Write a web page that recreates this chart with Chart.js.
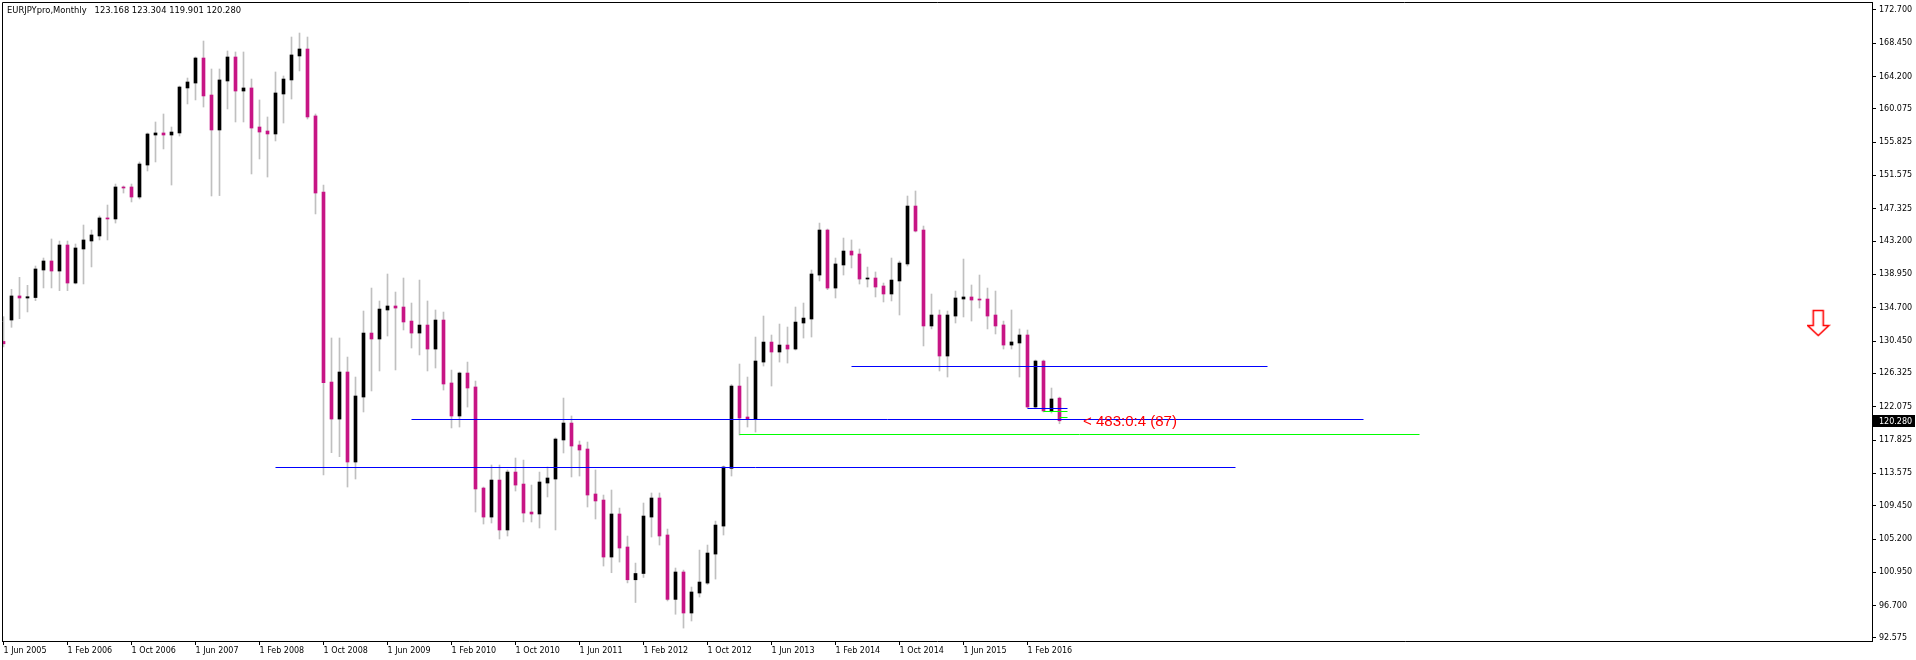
<!DOCTYPE html>
<html>
<head>
<meta charset="utf-8">
<script src="https://cdn.jsdelivr.net/npm/chart.js@4.4.1/dist/chart.umd.min.js"></script>
<style>
html,body{margin:0;padding:0;background:#ffffff;overflow:hidden;}
#wrap{width:1916px;height:660px;position:relative;}
canvas{display:block;}
</style>
</head>
<body>
<div id="wrap"><canvas id="chart" width="1916" height="660"></canvas></div>
<script>
// ---- data (monthly bars, index 0 = Jun 2005) ----
const chartTitle = 'EURJPYpro,Monthly   123.168 123.304 119.901 120.280';

const opens = [
130.40,133.13,136.20,135.94,136.00,139.51,140.66,139.38,142.70,137.85,
142.19,143.21,143.85,146.15,146.02,150.10,150.10,148.82,152.90,156.73,
156.99,156.73,156.99,162.73,163.36,166.55,161.83,157.37,163.62,166.68,
162.34,162.73,157.75,157.24,156.86,161.96,163.75,166.81,167.70,159.16,
149.46,125.22,120.50,126.50,115.02,123.31,131.47,130.71,134.41,134.92,
134.79,133.00,131.47,132.49,129.43,133.13,125.10,120.89,126.37,124.59,
111.70,108.00,112.72,106.35,113.74,112.21,108.64,108.39,112.34,112.85,
117.83,119.99,117.19,116.68,110.94,110.17,102.90,108.39,104.18,100.00,
100.80,108.00,110.43,105.71,97.50,100.99,95.76,98.31,99.58,103.28,
106.85,114.21,124.71,120.76,120.50,127.77,130.32,129.05,129.94,129.43,
132.75,133.26,138.87,144.61,137.21,140.15,141.93,141.55,138.36,138.49,
137.47,136.45,138.11,140.28,147.67,144.61,132.37,133.77,128.54,133.64,
135.81,136.07,135.81,135.81,133.77,132.50,129.94,130.20,131.22,122.04,
127.90,121.53,123.168];

const highs = [
133.56,137.05,138.58,137.56,140.02,141.04,143.47,143.21,143.21,142.83,
145.25,144.61,146.40,147.80,150.48,150.23,150.48,153.29,156.99,158.39,
159.41,157.75,162.98,164.00,166.68,168.72,165.15,165.15,167.45,167.32,
167.32,163.87,161.20,159.03,164.77,164.26,169.23,169.74,169.23,159.41,
150.35,130.84,130.84,128.41,125.86,134.28,137.21,135.56,139.00,136.70,
138.49,135.30,138.23,135.56,134.41,134.15,126.75,126.50,127.77,125.35,
111.83,114.64,114.64,114.00,115.53,115.27,112.08,113.74,114.38,118.10,
123.18,120.89,117.70,117.57,114.00,110.81,111.45,109.15,105.58,102.13,
109.79,111.07,111.07,106.47,101.50,101.24,99.07,103.79,104.43,107.49,
114.51,124.90,127.52,125.86,130.96,133.64,131.22,132.62,132.24,134.79,
135.30,139.51,145.50,144.74,141.04,143.59,143.34,142.19,139.89,139.26,
137.85,141.04,140.66,148.95,149.59,145.12,136.45,134.41,134.28,136.83,
140.91,137.60,138.87,137.21,136.83,133.00,134.41,131.99,131.86,128.03,
128.03,124.46,123.304];

const lows = [
129.70,132.20,133.30,134.16,135.60,137.22,137.22,136.88,136.88,137.73,
137.73,139.90,143.34,143.34,145.50,149.33,148.19,148.57,152.14,153.29,
154.95,150.35,156.60,160.69,161.20,160.30,148.95,149.00,160.05,158.39,
158.39,151.76,153.67,151.37,155.97,158.26,161.32,164.90,158.77,146.66,
113.36,116.21,115.70,111.83,112.85,121.40,124.08,126.63,131.09,126.76,
131.86,129.56,128.67,126.63,127.01,124.20,119.36,119.48,122.03,108.64,
107.11,107.24,105.20,105.58,111.32,107.37,107.37,106.60,110.56,106.35,
116.17,113.11,113.23,109.28,107.75,101.75,100.90,102.26,99.60,97.10,
100.30,105.45,104.43,97.30,95.60,93.84,94.74,97.80,99.40,100.09,
105.71,113.23,118.46,119.48,118.84,127.26,124.71,127.77,127.64,129.30,
130.83,130.96,138.11,137.00,135.94,138.87,139.77,137.72,137.34,136.07,
135.43,135.56,133.77,140.02,144.36,129.82,131.99,126.63,125.86,132.75,
133.52,133.00,134.66,131.99,131.35,129.43,129.43,125.86,121.90,121.91,
121.40,121.27,119.901];

const closes = [
130.10,136.20,135.94,136.10,139.64,140.66,139.38,142.70,137.85,142.32,
143.34,143.98,146.15,146.02,150.10,149.97,148.82,153.03,156.86,156.99,
156.73,157.11,162.85,163.49,166.55,161.71,157.37,163.75,166.68,162.34,
162.73,157.62,157.11,156.86,162.09,163.87,166.94,167.70,159.03,149.33,
125.14,120.50,126.50,115.02,123.44,131.47,130.71,134.53,134.92,134.66,
132.88,131.47,132.49,129.43,133.13,124.97,120.89,126.37,124.46,111.58,
108.00,112.72,106.35,113.74,112.08,108.51,108.39,112.47,112.98,117.95,
119.99,117.06,116.55,110.81,110.05,102.90,108.39,104.05,100.00,100.80,
108.13,110.43,105.58,97.50,100.99,95.76,98.44,99.71,103.41,106.98,
114.38,124.71,120.63,120.50,127.90,130.32,129.05,129.94,129.43,132.87,
133.38,139.00,144.61,137.21,140.28,141.93,141.42,138.36,138.49,137.34,
136.45,138.23,140.40,147.67,144.48,132.37,133.77,128.54,133.77,135.94,
136.07,135.68,135.68,133.64,132.37,129.94,130.33,131.22,122.04,127.90,
121.53,123.06,120.280];

// time axis tick labels (every 8 bars)
const xTickIndex  = [0,8,16,24,32,40,48,56,64,72,80,88,96,104,112,120,128];
const xTickLabels = ['1 Jun 2005','1 Feb 2006','1 Oct 2006','1 Jun 2007','1 Feb 2008','1 Oct 2008',
  '1 Jun 2009','1 Feb 2010','1 Oct 2010','1 Jun 2011','1 Feb 2012','1 Oct 2012','1 Jun 2013',
  '1 Feb 2014','1 Oct 2014','1 Jun 2015','1 Feb 2016'];

// price axis labels
const yTickValues = [172.700,168.450,164.200,160.075,155.825,151.575,147.325,143.200,138.950,134.700,
  130.450,126.325,122.075,117.825,113.575,109.450,105.200,100.950,96.700,92.575];

// horizontal level lines: price, from bar, to bar, colour
const levelPrices = [127.2027, 120.4424, 114.3200, 121.8455, 118.5292, 121.4629, 120.6976];
const levelFrom   = [106,      51,       34,       128,      92,       130,      132];
const levelTo     = [158,      170,      154,      133,      177,      133,      133];
const levelColors = ['#0000FF','#0000FF','#0000FF','#0000FF','#00FF00','#00FF00','#00FF00'];

const lastPrice = 120.280;
const signalText = '< 483:0:4 (87)';
const signalPos = [134.95, 120.15];   // bar index, price
const arrowPos  = [226.9, 132.75];    // bar index, price

// ---- build ----
const bodyColor = (o, c) => c >= o ? '#000000' : '#C71585';
const bodyData = opens.map((o, i) => ({x: i, y: [o, closes[i]]}));
const wickData = highs.map((h, i) => ({x: i, y: [lows[i], h]}));

function makeArrow() {
  const c = document.createElement('canvas');
  c.width = 24; c.height = 28;
  const g = c.getContext('2d');
  g.strokeStyle = '#FF0000';
  g.lineWidth = 1.6;
  g.beginPath();
  g.moveTo(6.5, 1.5);
  g.lineTo(16.5, 1.5);
  g.lineTo(16.5, 16.5);
  g.lineTo(22, 16.5);
  g.lineTo(11.5, 26.5);
  g.lineTo(1, 16.5);
  g.lineTo(6.5, 16.5);
  g.closePath();
  g.stroke();
  return c;
}

const datasets = [
  {
    type: 'bar', label: 'body', data: bodyData,
    backgroundColor: opens.map((o, i) => bodyColor(o, closes[i])),
    borderWidth: 0, barThickness: 3, maxBarThickness: 3, grouped: false,
    minBarLength: 1, order: 2
  },
  {
    type: 'bar', label: 'wick', data: wickData,
    backgroundColor: '#C0C0C0',
    borderWidth: 0, barThickness: 1, maxBarThickness: 1, grouped: false,
    minBarLength: 1, order: 3
  }
];
levelPrices.forEach((p, i) => {
  datasets.push({
    type: 'line', label: 'level' + i,
    data: [{x: levelFrom[i], y: p}, {x: levelTo[i], y: p}],
    borderColor: levelColors[i], borderWidth: 1, pointRadius: 0, fill: false,
    tension: 0, order: 1
  });
});
datasets.push({
  type: 'scatter', label: 'arrow',
  data: [{x: arrowPos[0], y: arrowPos[1]}],
  pointStyle: makeArrow(), pointRadius: 12, order: 0
});

const FONT = '"DejaVu Sans", Verdana, sans-serif';
const SIGNAL_FONT = '"Liberation Sans", Arial, sans-serif';

const overlay = {
  id: 'overlay',
  afterDatasetsDraw(chart) {
    const {ctx, scales: {x, y}} = chart;
    ctx.save();
    ctx.font = '15px ' + SIGNAL_FONT;
    ctx.fillStyle = '#FF0000';
    ctx.textAlign = 'left';
    ctx.textBaseline = 'middle';
    ctx.fillText(signalText, x.getPixelForValue(signalPos[0]), y.getPixelForValue(signalPos[1]));
    ctx.restore();
  },
  afterDraw(chart) {
    const {ctx, chartArea: a, scales: {y}} = chart;
    ctx.save();
    ctx.strokeStyle = '#000000';
    ctx.lineWidth = 1;
    ctx.beginPath();
    ctx.moveTo(a.left + 0.5, a.bottom);
    ctx.lineTo(a.left + 0.5, a.top + 0.5);
    ctx.lineTo(a.right, a.top + 0.5);
    ctx.stroke();
    // title
    ctx.font = '8.4px ' + FONT;
    ctx.fillStyle = '#000000';
    ctx.textAlign = 'left';
    ctx.textBaseline = 'middle';
    ctx.fillText(chartTitle, a.left + 5, a.top + 9);
    // last price box
    ctx.font = '8px ' + FONT;
    const py = Math.round(y.getPixelForValue(lastPrice));
    ctx.fillStyle = '#000000';
    ctx.fillRect(y.left + 1, py - 6, 42, 12);
    ctx.fillStyle = '#FFFFFF';
    ctx.fillText(lastPrice.toFixed(3), y.left + 7, py + 0.5);
    ctx.restore();
  }
};

new Chart(document.getElementById('chart'), {
  type: 'bar',
  data: {datasets},
  options: {
    responsive: false,
    animation: false,
    devicePixelRatio: 1,
    layout: {autoPadding: false, padding: {left: 2, top: 2, right: 0, bottom: 0}},
    plugins: {legend: {display: false}, tooltip: {enabled: false}, title: {display: false}},
    scales: {
      x: {
        type: 'linear', position: 'bottom', offset: false,
        min: -0.1875, max: 233.5625,
        grid: {display: true, drawOnChartArea: false, drawTicks: true, tickLength: 4, color: '#000000', offset: false},
        border: {display: true, color: '#000000', width: 1},
        ticks: {
          autoSkip: false, maxRotation: 0, minRotation: 0, align: 'start', padding: 1,
          color: '#000000', font: {family: FONT, size: 8},
          callback: (v, i) => xTickLabels[i]
        },
        afterBuildTicks: s => { s.ticks = xTickIndex.map(v => ({value: v})); },
        afterFit: s => { s.height = 19; s.paddingLeft = 0; s.paddingRight = 0; }
      },
      y: {
        type: 'linear', position: 'right',
        min: 92.19, max: 173.695,
        grid: {display: true, drawOnChartArea: false, drawTicks: true, tickLength: 4, color: '#000000'},
        border: {display: true, color: '#000000', width: 1},
        ticks: {
          padding: 3, color: '#000000', font: {family: FONT, size: 8},
          callback: v => Number(v).toFixed(3)
        },
        afterBuildTicks: s => { s.ticks = yTickValues.map(v => ({value: v})); },
        afterFit: s => { s.width = 44; s.paddingTop = 0; s.paddingBottom = 0; }
      }
    }
  },
  plugins: [overlay]
});
</script>
</body>
</html>
